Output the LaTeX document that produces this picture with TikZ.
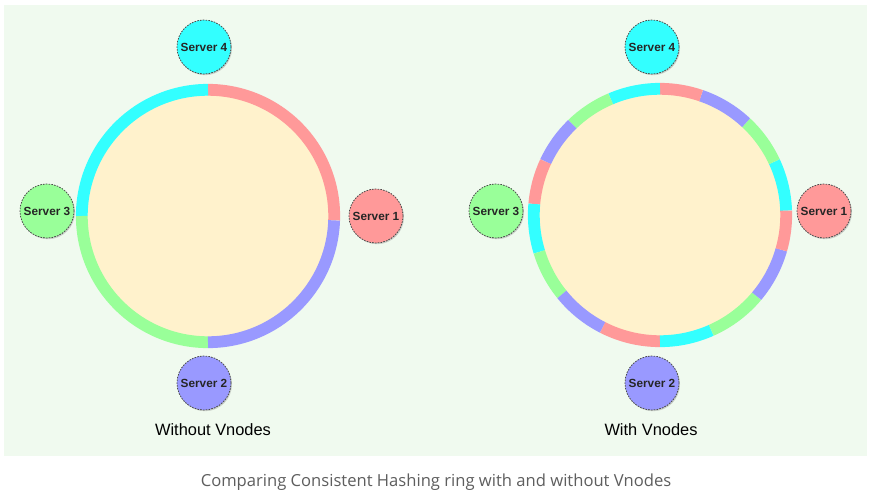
\documentclass[tikz,border=0pt]{standalone}
\usepackage{fontspec}
\setmainfont{Liberation Sans}
\newfontfamily\capfont{Open Sans}
\usetikzlibrary{shadows}
\definecolor{bgpanel}{HTML}{F0FAEF}
\definecolor{ringfill}{HTML}{FFF2CC}
\definecolor{cred}{HTML}{FF9999}
\definecolor{cblue}{HTML}{9999FF}
\definecolor{cgreen}{HTML}{99FF99}
\definecolor{ccyan}{HTML}{33FFFF}
\definecolor{capgray}{HTML}{5E5E5E}
\tikzset{
  server/.style={circle, minimum size=54pt, inner sep=0pt, draw=black!70,
    dash pattern=on 1.6pt off 1.2pt, line width=0.8pt,
    drop shadow={shadow xshift=1pt, shadow yshift=-1.2pt, opacity=0.35},
    font=\fontsize{11.8}{13}\selectfont\bfseries, text=black!85},
  disk/.style={circle, minimum size=242pt, inner sep=0pt, fill=ringfill, draw=none},
  seg/.style={line width=11.8pt, draw=#1},
  title/.style={font=\fontsize{16.4}{18}\selectfont, text=black},
}
\newcommand{\ringseg}[4]{\draw[seg=#4] (#1) ++(#2:126.2pt) arc[start angle=#2, end angle=#3, radius=126.2pt];}
\begin{document}
\begin{tikzpicture}[x=1pt, y=-1pt]
\useasboundingbox (0,0) rectangle (871,496);
\fill[white] (0,0) rectangle (871,496);
\fill[bgpanel] (4,5) rectangle (867,456);

% ---------- left: without vnodes ----------
\coordinate (lc) at (208,216);
\node[disk] (ldisk) at (lc) {};
\ringseg{lc}{-2}{90}{cred}
\ringseg{lc}{90}{180}{ccyan}
\ringseg{lc}{180}{270}{cgreen}
\ringseg{lc}{270}{358}{cblue}

\node[server, fill=ccyan] (l4) at (204,47) {Server 4};
\node[server, fill=cgreen] (l3) at (47,211) {Server 3};
\node[server, fill=cred] (l1) at (376,216) {Server 1};
\node[server, fill=cblue] (l2) at (204,383) {Server 2};
\node[title] (ltitle) at (213,430) {Without Vnodes};

% ---------- right: with vnodes ----------
\coordinate (rc) at (660,215);
\node[disk] (rdisk) at (rc) {};
\ringseg{rc}{2}{25}{ccyan}
\ringseg{rc}{25}{47}{cgreen}
\ringseg{rc}{47}{71}{cblue}
\ringseg{rc}{71}{90}{cred}
\ringseg{rc}{90}{113}{ccyan}
\ringseg{rc}{113}{134}{cgreen}
\ringseg{rc}{134}{155}{cblue}
\ringseg{rc}{155}{175}{cred}
\ringseg{rc}{175}{197}{ccyan}
\ringseg{rc}{197}{219}{cgreen}
\ringseg{rc}{219}{243}{cblue}
\ringseg{rc}{243}{270}{cred}
\ringseg{rc}{270}{294}{ccyan}
\ringseg{rc}{294}{320}{cgreen}
\ringseg{rc}{320}{344}{cblue}
\ringseg{rc}{344}{362}{cred}

\node[server, fill=ccyan] (r4) at (652,47) {Server 4};
\node[server, fill=cgreen] (r3) at (496,211) {Server 3};
\node[server, fill=cred] (r1) at (824,211) {Server 1};
\node[server, fill=cblue] (r2) at (652,383) {Server 2};
\node[title] (rtitle) at (651,430) {With Vnodes};

% ---------- caption ----------
\node[font=\capfont\fontsize{16.6}{19}\selectfont, text=capgray] (cap) at (436,482)
  {Comparing Consistent Hashing ring with and without Vnodes};
\end{tikzpicture}
\end{document}
